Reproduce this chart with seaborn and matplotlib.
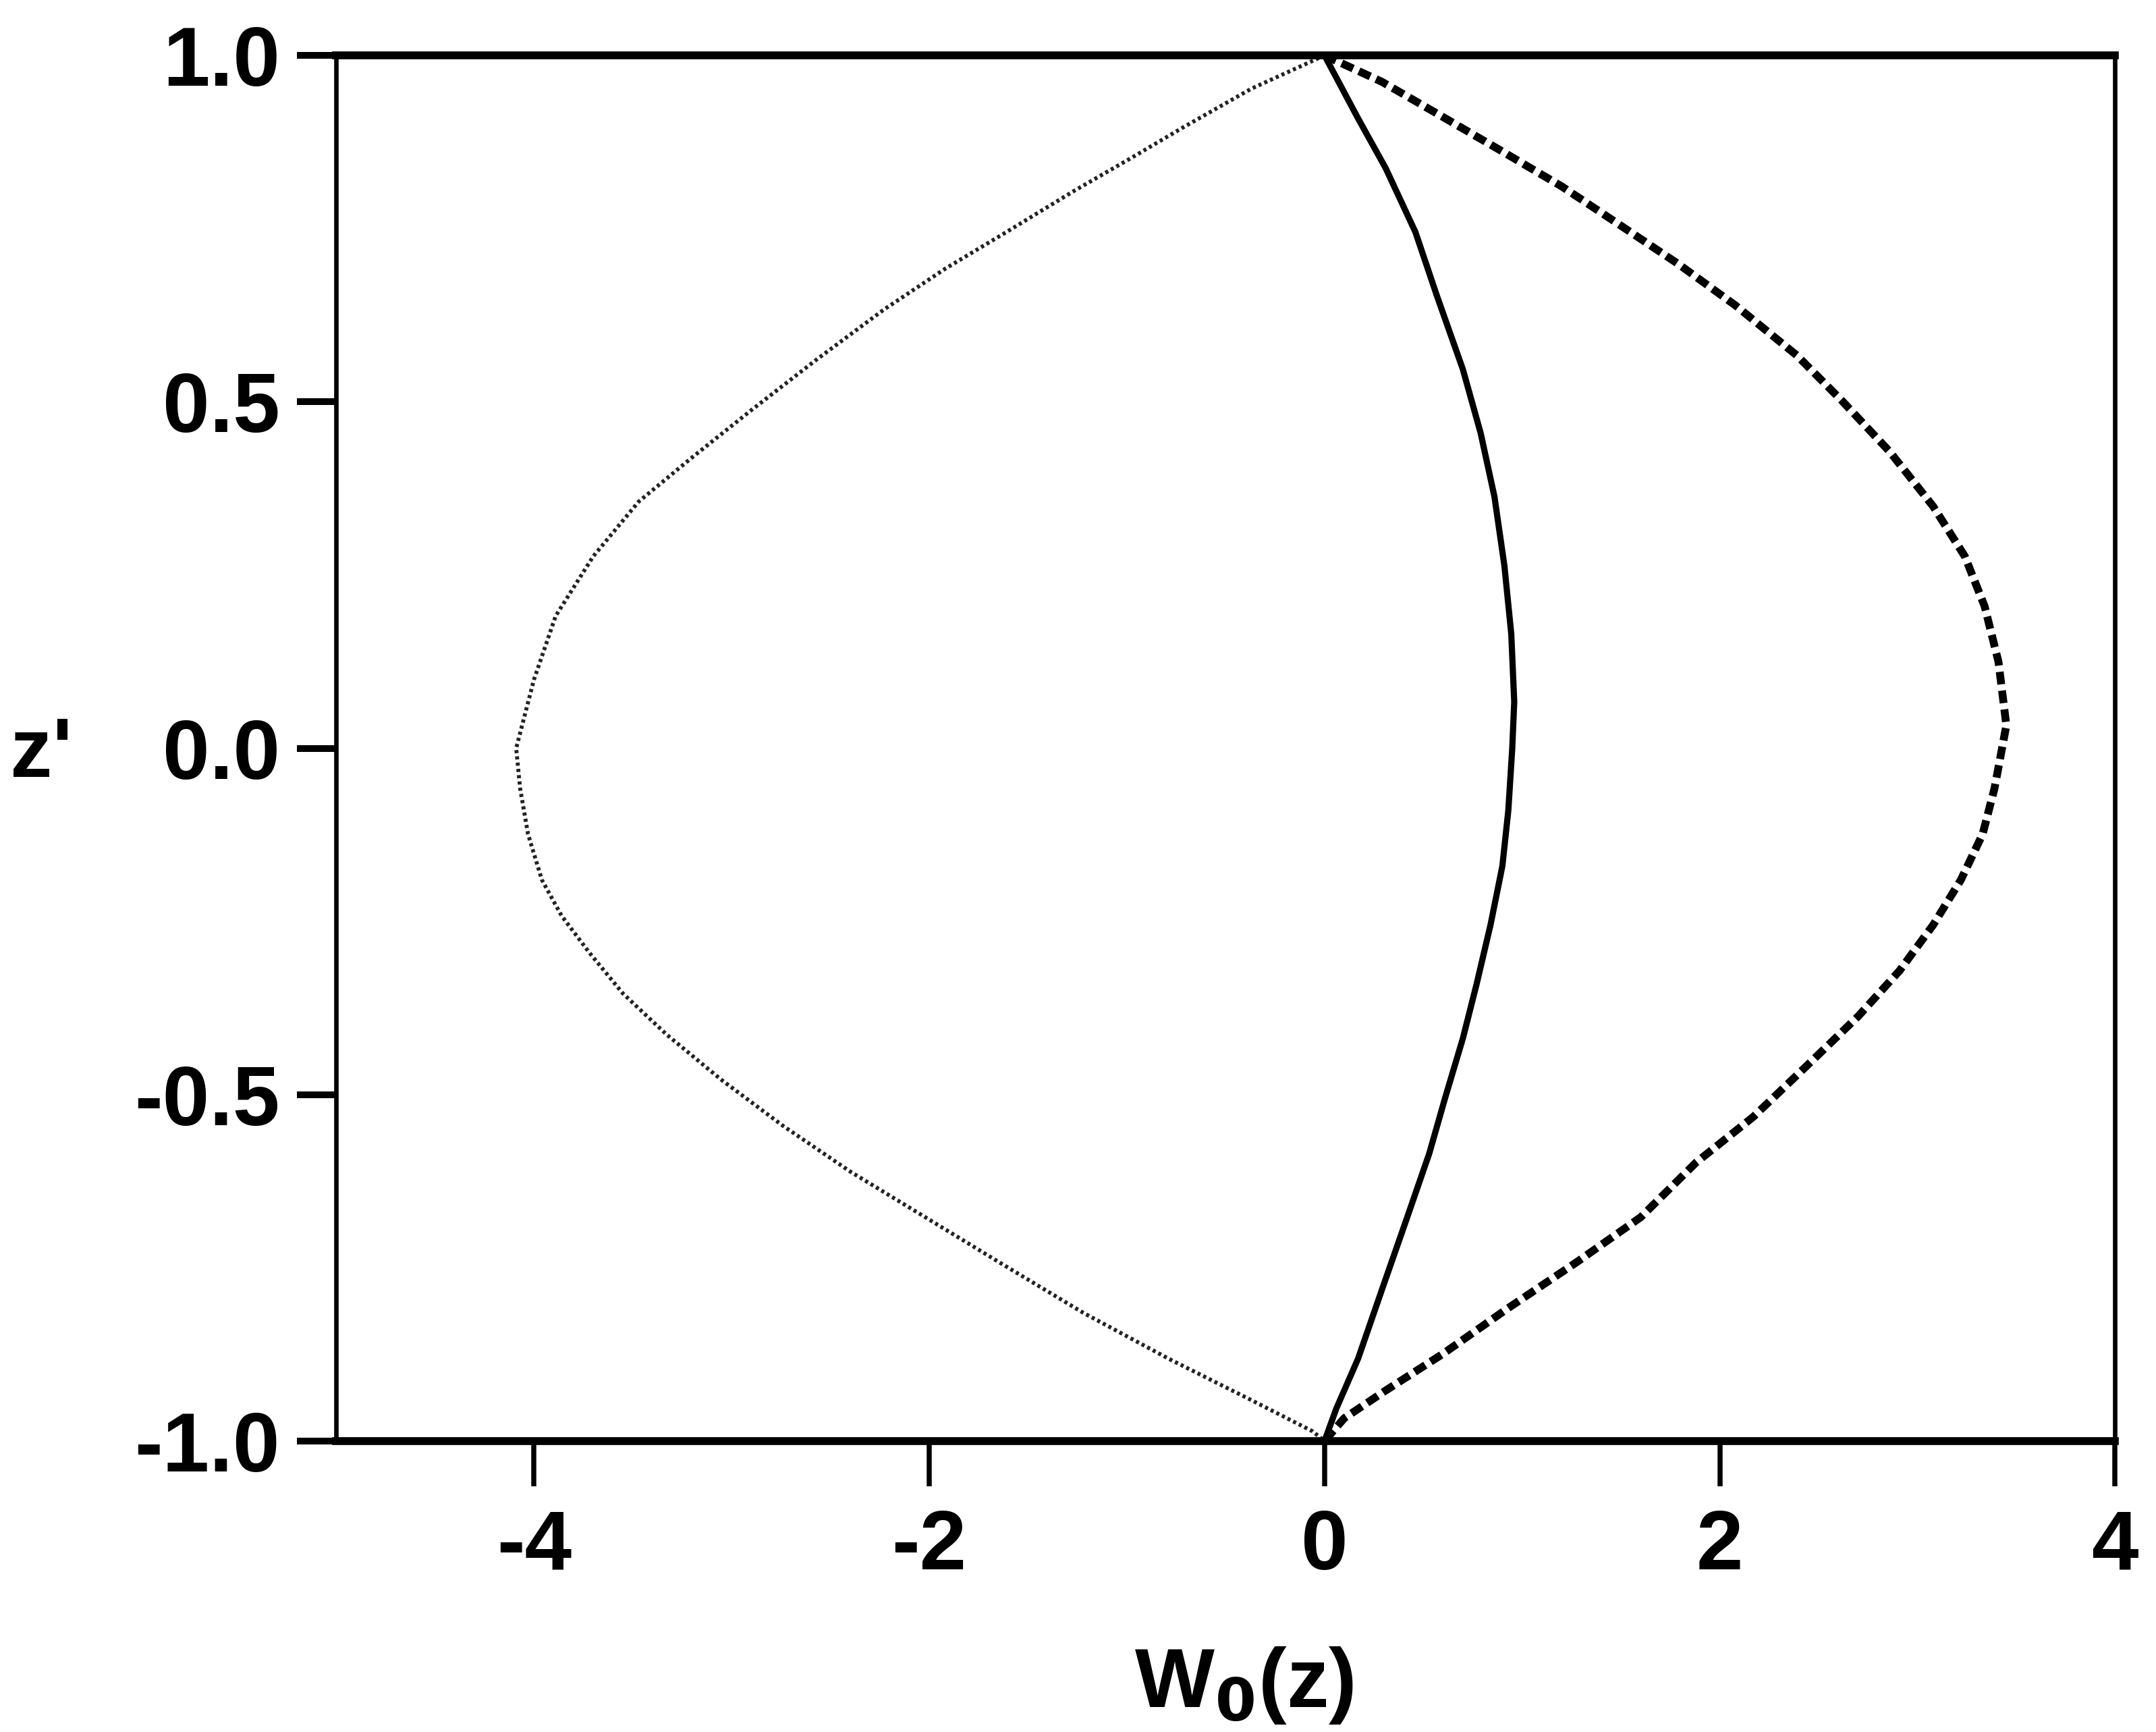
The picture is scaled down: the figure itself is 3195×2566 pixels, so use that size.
import matplotlib
matplotlib.use("Agg")
import matplotlib.pyplot as plt
import seaborn as sns
import pandas as pd

# Profiles W0(z) versus height z' for three cases
z_dotted = [1.0, 0.952, 0.897, 0.850, 0.804, 0.745, 0.692, 0.633, 0.561, 0.488,
            0.422, 0.356, 0.277, 0.191, 0.099, 0.0, -0.058, -0.124, -0.19, -0.242,
            -0.295, -0.354, -0.413, -0.479, -0.545, -0.611, -0.670, -0.743, -0.815,
            -0.881, -0.941, -0.986, -1.0]
w_dotted = [0.0, -0.37, -0.71, -0.99, -1.27, -1.61, -1.92, -2.23, -2.57, -2.90,
            -3.19, -3.47, -3.70, -3.89, -4.00, -4.09, -4.07, -4.03, -3.96, -3.86,
            -3.72, -3.55, -3.33, -3.05, -2.74, -2.40, -2.06, -1.64, -1.22,
            -0.79, -0.37, -0.06, 0.0]

z_solid = [1.0, 0.909, 0.837, 0.745, 0.652, 0.547, 0.455, 0.363, 0.264, 0.165,
           0.067, 0.0, -0.09, -0.17, -0.255, -0.34, -0.419, -0.505, -0.585,
           -0.684, -0.782, -0.881, -0.953, -1.0]
w_solid = [0.0, 0.17, 0.31, 0.46, 0.57, 0.70, 0.79, 0.86, 0.91, 0.945,
           0.96, 0.95, 0.93, 0.90, 0.84, 0.77, 0.70, 0.61, 0.53,
           0.41, 0.29, 0.17, 0.06, 0.0]

z_dashed = [1.0, 0.962, 0.916, 0.863, 0.811, 0.758, 0.699, 0.639, 0.567, 0.501,
            0.428, 0.349, 0.277, 0.205, 0.125, 0.033, -0.058, -0.124, -0.19,
            -0.255, -0.321, -0.387, -0.453, -0.532, -0.598, -0.677, -0.743,
            -0.808, -0.874, -0.927, -0.967, -1.0]
w_dashed = [0.0, 0.29, 0.57, 0.89, 1.20, 1.48, 1.79, 2.08, 2.39, 2.62,
            2.86, 3.08, 3.24, 3.34, 3.41, 3.45, 3.39, 3.33, 3.22,
            3.08, 2.91, 2.70, 2.46, 2.17, 1.88, 1.60, 1.27,
            0.93, 0.60, 0.31, 0.10, 0.0]

x_ticks = [-4, -2, 0, 2, 4]
y_ticks = [-1.0, -0.5, 0.0, 0.5, 1.0]

sns.set_style("ticks")
plt.rcParams["font.family"] = ["Liberation Sans", "DejaVu Sans"]
plt.rcParams["font.weight"] = "bold"
plt.rcParams["text.color"] = "black"
plt.rcParams["xtick.color"] = "black"
plt.rcParams["ytick.color"] = "black"

fig = plt.figure(figsize=(3195 / 300, 2566 / 300), dpi=300)
ax = fig.add_axes([0.156, 0.168, 0.825, 0.800])

df_dot = pd.DataFrame({"w": w_dotted, "z": z_dotted})
df_sol = pd.DataFrame({"w": w_solid, "z": z_solid})
df_das = pd.DataFrame({"w": w_dashed, "z": z_dashed})

sns.lineplot(data=df_dot, x="w", y="z", orient="y", sort=False, ax=ax,
             color="#222222", linewidth=1.4, linestyle=(0, (0.8, 0.8)))
sns.lineplot(data=df_sol, x="w", y="z", orient="y", sort=False, ax=ax,
             color="black", linewidth=2.2)
sns.lineplot(data=df_das, x="w", y="z", orient="y", sort=False, ax=ax,
             color="black", linewidth=2.8, linestyle=(0, (1.6, 0.8)))

ax.set_xlim(-5, 4)
ax.set_ylim(-1.0, 1.0)
ax.set_xticks(x_ticks)
ax.set_xticklabels([str(t) for t in x_ticks])
ax.set_yticks(y_ticks)
ax.set_yticklabels([f"{t:.1f}" for t in y_ticks])
ax.set_xlabel("")
ax.set_ylabel("")

for side in ["top", "bottom"]:
    ax.spines[side].set_linewidth(2.8)
for side in ["left", "right"]:
    ax.spines[side].set_linewidth(1.6)
for s in ax.spines.values():
    s.set_visible(True)
    s.set_color("black")

ax.tick_params(axis="y", direction="out", length=14, width=2.4, pad=6,
               labelsize=30, left=True, right=False, colors="black")
ax.tick_params(axis="x", direction="out", length=16, width=1.8, pad=8,
               labelsize=30, bottom=True, top=False, colors="black")
for lab in ax.get_xticklabels() + ax.get_yticklabels():
    lab.set_fontweight("bold")

fig.text(0.019, 0.564, "z'", fontsize=30, fontweight="bold",
         ha="center", va="center", color="black")
fig.text(0.577, 0.027, r"W$_\mathbf{0}$(z)", fontsize=30, fontweight="bold",
         ha="center", va="center", color="black")

fig.savefig("out.png", dpi=300, facecolor="white")
